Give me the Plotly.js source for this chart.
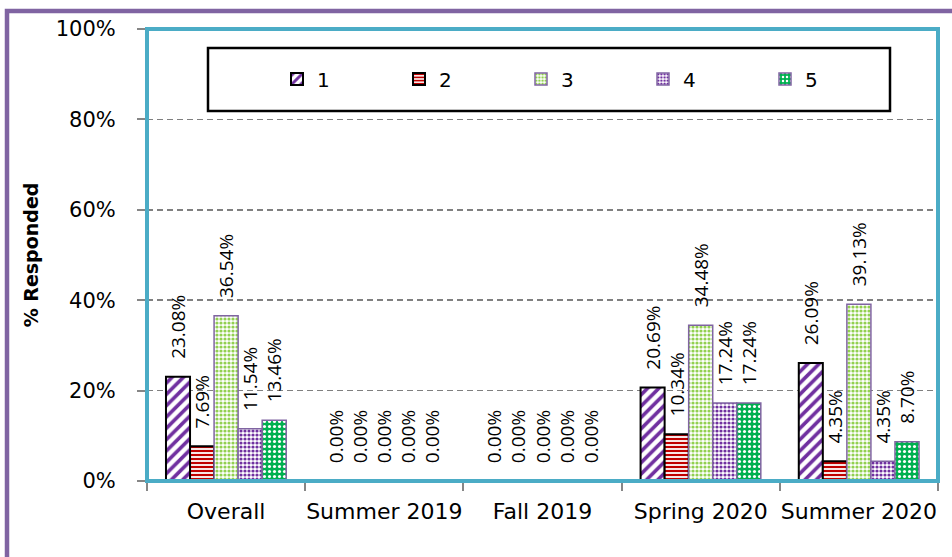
<!DOCTYPE html>
<html>
<head>
<meta charset="utf-8">
<script src="https://cdn.plot.ly/plotly-3.0.1.min.js"></script>
<style>html,body{margin:0;padding:0;background:#fff;}#chart{width:952px;height:557px;}</style>
</head>
<body>
<div id="chart"></div>
<script>
const categories = ["Overall", "Summer 2019", "Fall 2019", "Spring 2020", "Summer 2020"];
const seriesNames = ["1", "2", "3", "4", "5"];
const s1 = [23.08, 0, 0, 20.69, 26.09];
const s2 = [7.69, 0, 0, 10.34, 4.35];
const s3 = [36.54, 0, 0, 34.48, 39.13];
const s4 = [11.54, 0, 0, 17.24, 4.35];
const s5 = [13.46, 0, 0, 17.24, 8.70];
const yTickVals = [0, 20, 40, 60, 80, 100];
const yTickLabels = ["0%", "20%", "40%", "60%", "80%", "100%"];

const seriesValues = [s1, s2, s3, s4, s5];
const styles = [
  {pattern: {shape: "/", fgcolor: "#7030A0", bgcolor: "#ffffff", size: 8, solidity: 0.45}, line: {color: "#000000", width: 2}},
  {pattern: {shape: "-", fgcolor: "#C00000", bgcolor: "#ffffff", size: 4, solidity: 0.55}, line: {color: "#000000", width: 2}},
  {pattern: {shape: ".", fgcolor: "#92D050", bgcolor: "#ffffff", size: 4, solidity: 0.5}, line: {color: "#8064A2", width: 1.5}},
  {pattern: {shape: ".", fgcolor: "#7030A0", bgcolor: "#ffffff", size: 4, solidity: 0.5}, line: {color: "#8064A2", width: 1.5}},
  {pattern: {shape: ".", fgcolor: "#ffffff", bgcolor: "#00B050", size: 5, solidity: 0.3}, line: {color: "#8064A2", width: 1.5}}
];

const traces = seriesValues.map((vals, i) => ({
  type: "bar",
  name: seriesNames[i],
  x: categories,
  y: vals,
  marker: {color: styles[i].pattern.bgcolor, pattern: styles[i].pattern, line: styles[i].line},
  texttemplate: "\u00a0\u00a0\u00a0%{y:.2f}%",
  textposition: "outside",
  textangle: -90,
  constraintext: "none",
  cliponaxis: false,
  textfont: {family: "Open Sans", size: 19, color: "#000"},
  hoverinfo: "skip"
}));

const L = 147, T = 29, PW = 791, PH = 452;
function px(x) { return (x - L) / PW; }
function py(y) { return (T + PH - y) / PH; }

const layout = {
  width: 952, height: 557,
  margin: {l: L, r: 952 - L - PW, t: T, b: 557 - T - PH, pad: 0},
  paper_bgcolor: "#ffffff",
  plot_bgcolor: "#ffffff",
  barmode: "group",
  bargap: 0.24,
  bargroupgap: 0,
  showlegend: true,
  legend: {
    orientation: "h", x: px(582), xanchor: "center", y: py(79), yanchor: "middle",
    font: {family: "DejaVu Sans", size: 20, color: "#000"},
    bgcolor: "rgba(0,0,0,0)", borderwidth: 0,
    entrywidth: 77, entrywidthmode: "pixels", traceorder: "normal"
  },
  xaxis: {
    type: "category",
    tickson: "boundaries",
    ticks: "outside", ticklen: 8, tickwidth: 2, tickcolor: "#868686",
    showline: true, linecolor: "#868686", linewidth: 2,
    showgrid: false,
    tickangle: 0,
    tickfont: {family: "DejaVu Sans", size: 22, color: "#000"},
    ticklabelstandoff: 10,
    fixedrange: true
  },
  yaxis: {
    range: [0, 100],
    tickmode: "array",
    tickvals: yTickVals,
    ticktext: yTickLabels,
    ticks: "outside", ticklen: 8, tickwidth: 2, tickcolor: "#868686",
    showline: true, linecolor: "#868686", linewidth: 2,
    showgrid: true, gridcolor: "#808080", gridwidth: 1.5, griddash: "6px,4px",
    zeroline: false,
    tickfont: {family: "DejaVu Sans", size: 21, color: "#000"},
    ticklabelstandoff: 17,
    title: {text: "% Responded", font: {family: "DejaVu Sans", size: 19, color: "#000", weight: "bold"}, standoff: 12},
    automargin: false,
    fixedrange: true
  },
  shapes: [
    {type: "rect", xref: "paper", yref: "paper", x0: 0, x1: 1, y0: 0, y1: 1, line: {color: "#4BACC6", width: 4}, layer: "above"},
    {type: "rect", xref: "paper", yref: "paper", x0: px(208), x1: px(890), y0: py(111), y1: py(48), line: {color: "#000000", width: 2.5}, layer: "above"},
    {type: "rect", xref: "paper", yref: "paper", x0: px(7), x1: px(1000), y0: py(600), y1: py(11), line: {color: "#8064A2", width: 4.5}, layer: "above"}
  ]
};

Plotly.newPlot("chart", traces, layout, {displayModeBar: false, staticPlot: true});
</script>
</body>
</html>
